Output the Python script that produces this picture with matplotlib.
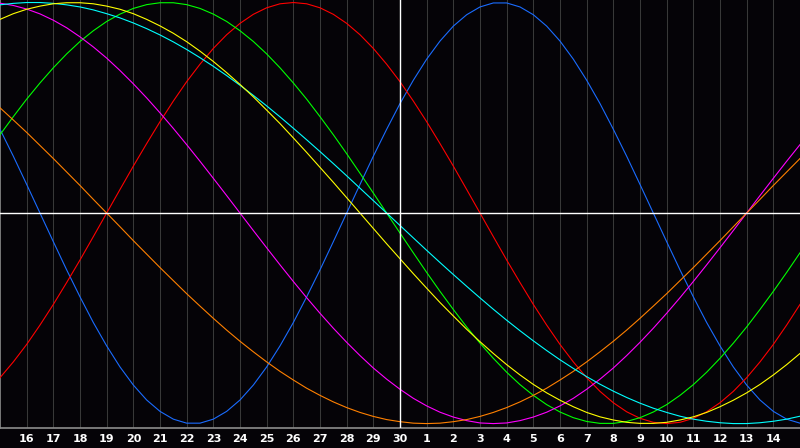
import numpy as np
import matplotlib
matplotlib.use("Agg")
import matplotlib.pyplot as plt

# day labels under the grid lines (the 15th sits on the left edge)
day_labels = ["16", "17", "18", "19", "20", "21", "22", "23", "24", "25",
              "26", "27", "28", "29", "30", "1", "2", "3", "4", "5",
              "6", "7", "8", "9", "10", "11", "12", "13", "14"]
today_label = "30"

# cycle values, every half day from the 15th to the 15th (61 points)
physical = [0.398, 0.270, 0.136, 0.000, -0.136, -0.270, -0.398, -0.520, -0.631, -0.731,
            -0.817, -0.888, -0.942, -0.979, -0.998, -0.998, -0.979, -0.942, -0.888, -0.817,
            -0.731, -0.631, -0.520, -0.398, -0.270, -0.136, 0.000, 0.136, 0.270, 0.398,
            0.520, 0.631, 0.731, 0.817, 0.888, 0.942, 0.979, 0.998, 0.998, 0.979,
            0.942, 0.888, 0.817, 0.731, 0.631, 0.520, 0.398, 0.270, 0.136, 0.000,
            -0.136, -0.270, -0.398, -0.520, -0.631, -0.731, -0.817, -0.888, -0.942, -0.979,
            -0.998]
emotional = [-0.782, -0.707, -0.624, -0.532, -0.434, -0.330, -0.223, -0.112, 0.000, 0.112,
             0.223, 0.330, 0.434, 0.532, 0.624, 0.707, 0.782, 0.847, 0.901, 0.944,
             0.975, 0.994, 1.000, 0.994, 0.975, 0.944, 0.901, 0.847, 0.782, 0.707,
             0.624, 0.532, 0.434, 0.330, 0.223, 0.112, 0.000, -0.112, -0.223, -0.330,
             -0.434, -0.532, -0.624, -0.707, -0.782, -0.847, -0.901, -0.944, -0.975, -0.994,
             -1.000, -0.994, -0.975, -0.944, -0.901, -0.847, -0.782, -0.707, -0.624, -0.532,
             -0.434]
intellectual = [0.372, 0.458, 0.541, 0.618, 0.690, 0.756, 0.815, 0.866, 0.910, 0.945,
                0.972, 0.990, 0.999, 0.999, 0.990, 0.972, 0.945, 0.910, 0.866, 0.815,
                0.756, 0.690, 0.618, 0.541, 0.458, 0.372, 0.282, 0.189, 0.095, 0.000,
                -0.095, -0.189, -0.282, -0.372, -0.458, -0.541, -0.618, -0.690, -0.756, -0.815,
                -0.866, -0.910, -0.945, -0.972, -0.990, -0.999, -0.999, -0.990, -0.972, -0.945,
                -0.910, -0.866, -0.815, -0.756, -0.690, -0.618, -0.541, -0.458, -0.372, -0.282,
                -0.189]
intuitive = [0.997, 0.986, 0.969, 0.946, 0.916, 0.880, 0.837, 0.789, 0.736, 0.677,
             0.614, 0.547, 0.476, 0.402, 0.325, 0.246, 0.165, 0.083, 0.000, -0.083,
             -0.165, -0.246, -0.325, -0.402, -0.476, -0.547, -0.614, -0.677, -0.736, -0.789,
             -0.837, -0.880, -0.916, -0.946, -0.969, -0.986, -0.997, -1.000, -0.997, -0.986,
             -0.969, -0.946, -0.916, -0.880, -0.837, -0.789, -0.736, -0.677, -0.614, -0.547,
             -0.476, -0.402, -0.325, -0.246, -0.165, -0.083, 0.000, 0.083, 0.165, 0.246,
             0.325]
aesthetic = [0.920, 0.947, 0.968, 0.983, 0.994, 0.999, 0.999, 0.994, 0.983, 0.968,
             0.947, 0.920, 0.889, 0.854, 0.814, 0.769, 0.720, 0.667, 0.611, 0.552,
             0.489, 0.425, 0.357, 0.288, 0.217, 0.146, 0.073, 0.000, -0.073, -0.146,
             -0.217, -0.288, -0.357, -0.425, -0.489, -0.552, -0.611, -0.667, -0.720, -0.769,
             -0.814, -0.854, -0.889, -0.920, -0.947, -0.968, -0.983, -0.994, -0.999, -0.999,
             -0.994, -0.983, -0.968, -0.947, -0.920, -0.889, -0.854, -0.814, -0.769, -0.720,
             -0.667]
awareness = [0.500, 0.442, 0.383, 0.321, 0.259, 0.195, 0.131, 0.065, 0.000, -0.065,
             -0.131, -0.195, -0.259, -0.321, -0.383, -0.442, -0.500, -0.556, -0.609, -0.659,
             -0.707, -0.752, -0.793, -0.832, -0.866, -0.897, -0.924, -0.947, -0.966, -0.981,
             -0.991, -0.998, -1.000, -0.998, -0.991, -0.981, -0.966, -0.947, -0.924, -0.897,
             -0.866, -0.832, -0.793, -0.752, -0.707, -0.659, -0.609, -0.556, -0.500, -0.442,
             -0.383, -0.321, -0.259, -0.195, -0.131, -0.065, 0.000, 0.065, 0.131, 0.195,
             0.259]
spiritual = [0.989, 0.996, 1.000, 1.000, 0.996, 0.989, 0.979, 0.965, 0.947, 0.927,
             0.903, 0.876, 0.846, 0.813, 0.777, 0.738, 0.697, 0.653, 0.607, 0.559,
             0.509, 0.457, 0.403, 0.348, 0.292, 0.235, 0.177, 0.118, 0.059, 0.000,
             -0.059, -0.118, -0.177, -0.235, -0.292, -0.348, -0.403, -0.457, -0.509, -0.559,
             -0.607, -0.653, -0.697, -0.738, -0.777, -0.813, -0.846, -0.876, -0.903, -0.927,
             -0.947, -0.965, -0.979, -0.989, -0.996, -1.000, -1.000, -0.996, -0.989, -0.979,
             -0.965]

series = [
    (physical, "#1a6cff"),
    (emotional, "#ff0000"),
    (intellectual, "#00ff00"),
    (intuitive, "#ff00ff"),
    (awareness, "#ff8000"),
    (spiritual, "#00ffff"),
    (aesthetic, "#ffff00"),
]

bg = "#050307"
fig = plt.figure(figsize=(8, 4.48), dpi=100, facecolor=bg)
ax = fig.add_axes([0, 20 / 448, 1, 428 / 448])
ax.set_facecolor(bg)

n_days = len(day_labels) + 1
pos = np.arange(len(physical)) * 0.5
ax.set_xlim(0, n_days)
ax.set_ylim(-1.021, 1.012)

# faint day lines
ticks = np.arange(1, n_days)
for d in ticks:
    ax.axvline(d, color="#383838", lw=0.75, zorder=1)

for values, color in series:
    ax.plot(pos, values, color=color, lw=0.8, zorder=3)

# zero line and today marker
ax.axhline(0, color="white", lw=1.0, zorder=4)
ax.axvline(ticks[day_labels.index(today_label)], color="white", lw=1.0, zorder=4)

for side in ["top", "right"]:
    ax.spines[side].set_visible(False)
for side in ["left", "bottom"]:
    ax.spines[side].set_color("#8c8c8c")
    ax.spines[side].set_linewidth(1.2)

ax.set_yticks([])
ax.set_xticks(ticks)
ax.set_xticklabels(day_labels, color="white", fontsize=8, fontweight="bold")
ax.tick_params(axis="x", length=0, pad=4)

fig.savefig("out.png", dpi=100, facecolor=bg)
